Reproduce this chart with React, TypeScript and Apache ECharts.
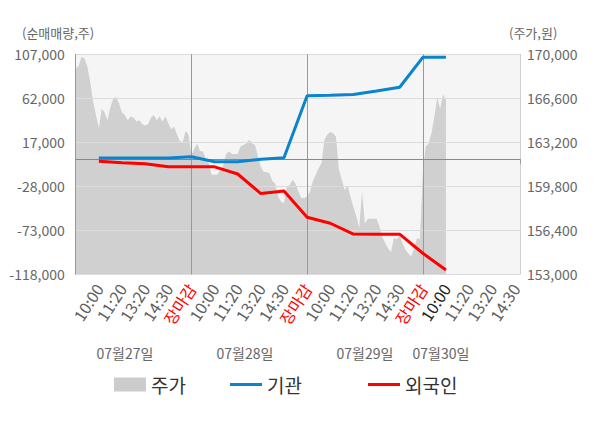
import React, { useEffect, useRef } from 'react';
import * as echarts from 'echarts';

// x-axis slot labels (slot index 0..19)
const xTickLabels = [
  '', '10:00', '11:20', '13:20', '14:30', '장마감',
  '10:00', '11:20', '13:20', '14:30', '장마감',
  '10:00', '11:20', '13:20', '14:30', '장마감',
  '10:00', '11:20', '13:20', '14:30',
];
const currentSlot = 16;
const dateLabels = ['07월27일', '07월28일', '07월29일', '07월30일'];

// investor net buying (shares) at slots 1..16
const investorSlots = [1, 2, 3, 4, 5, 6, 7, 8, 9, 10, 11, 12, 13, 14, 15, 16];
const instNet = [900, 900, 900, 900, 2300, -2800, -2800, -400, 1200, 64600, 65100, 65900, 69500, 73300, 103900, 103900];
const foreignNet = [-2400, -3900, -4900, -8100, -8100, -8100, -15400, -35400, -32800, -59700, -65800, -76800, -77000, -77000, -96500, -113600];

// price (won), one sample every 1/8 slot from slot 0 to slot 16
const priceStep = 1 / 8;
const priceValues = [
  168900, 169100, 169800, 169700, 169100, 167900, 166400, 165300, 164300, 165800,
  165500, 164900, 165900, 166600, 166700, 166200, 165500, 165300, 164900, 165200,
  165100, 164800, 164900, 164600, 164500, 164600, 165100, 165300, 164900, 165200,
  164800, 165200, 164700, 164200, 164400, 163800, 163300, 163200, 164100, 163800,
  162200, 162700, 163100, 162500, 162500, 161900, 161600, 160700, 160700, 160700,
  161100, 161400, 162300, 162500, 162300, 162300, 162300, 162900, 163000, 163100,
  163400, 163100, 163000, 162100, 161300, 160900, 160900, 160800, 160200, 160000,
  159000, 158600, 158500, 159800, 159900, 160300, 160000, 159400, 158900, 158900,
  159000, 159400, 160200, 160700, 161200, 161600, 163400, 163800, 164000, 163900,
  163600, 161100, 160300, 159500, 159900, 159000, 158200, 157500, 156600, 159400,
  156900, 157300, 157300, 157300, 157300, 156700, 155900, 155400, 155000, 154700,
  155800, 155700, 156000, 155400, 154900, 154600, 154400, 155000, 155800, 155700,
  160800, 162900, 163100, 163900, 165200, 166700, 165800, 166900, 166500,
];

const leftMin = -118000;
const leftMax = 107000;
const leftInterval = 45000;
const rightMin = 153000;
const rightMax = 170000;
const rightInterval = 3400;
const xMax = 19.2;
const dayBoundaries = [5, 10, 15];
const xTickValues = [0, 5, 10, 15, 19.2];
const xLabelValues = [1, 2, 3, 4, 5, 6, 7, 8, 9, 10, 11, 12, 13, 14, 15, 16, 17, 18, 19];

const FONT = "'Noto Sans CJK KR', 'Noto Sans', sans-serif";

export default function App() {
  const ref = useRef<HTMLDivElement>(null);

  useEffect(() => {
    document.body.style.margin = '0';
    if (!ref.current) return;
    const chart = echarts.init(ref.current, undefined, { renderer: 'svg' });

    const fmt = (v: number) => v.toLocaleString('en-US');

    const option: any = {
      animation: false,
      backgroundColor: '#ffffff',
      textStyle: { fontFamily: FONT },
      grid: {
        left: 75.7,
        right: 80,
        top: 54.3,
        bottom: 153.7,
        show: true,
        backgroundColor: '#f5f5f5',
        borderWidth: 0,
        z: 0,
      },
      legend: [
        {
          data: ['주가'], left: 114, top: 375, padding: 0, selectedMode: false,
          icon: 'rect', itemWidth: 32, itemHeight: 14,
          textStyle: { fontSize: 19, color: '#333', fontFamily: FONT },
        },
        {
          data: ['기관'], left: 230, top: 375, padding: 0, selectedMode: false,
          icon: 'rect', itemWidth: 32, itemHeight: 3,
          textStyle: { fontSize: 19, color: '#333', fontFamily: FONT },
        },
        {
          data: ['외국인'], left: 368, top: 375, padding: 0, selectedMode: false,
          icon: 'rect', itemWidth: 32, itemHeight: 3,
          textStyle: { fontSize: 19, color: '#333', fontFamily: FONT },
        },
      ],
      xAxis: {
        type: 'value',
        min: 0,
        max: xMax,
        interval: 1,
        z: 1,
        axisLine: { show: true, lineStyle: { color: '#999', width: 1 } },
        axisTick: { show: true, customValues: xTickValues, length: 5, lineStyle: { color: '#999' } },
        splitLine: { show: false },
        axisLabel: {
          customValues: xLabelValues,
          rotate: 57,
          margin: 11,
          fontSize: 16,
          color: '#606060',
          fontFamily: FONT,
          formatter: (val: number) => {
            const k = Math.round(val);
            if (Math.abs(val - k) > 1e-6) return '';
            const t = xTickLabels[k];
            if (!t) return '';
            if (t === '장마감') return `{r|${t}}`;
            if (k === currentSlot) return `{d|${t}}`;
            return t;
          },
          rich: {
            r: { color: '#ff0000', fontSize: 16, fontFamily: FONT },
            d: { color: '#222', fontSize: 16, fontFamily: FONT },
          },
        },
      },
      yAxis: [
        {
          type: 'value',
          position: 'left',
          min: leftMin,
          max: leftMax,
          interval: leftInterval,
          z: 1,
          axisLine: { show: true, lineStyle: { color: '#999' } },
          axisTick: { show: false },
          splitLine: { show: true, lineStyle: { color: '#dcdcdc', width: 1 } },
          axisLabel: { fontSize: 14, color: '#666', margin: 11, fontFamily: FONT, formatter: fmt },
        },
        {
          type: 'value',
          position: 'right',
          min: rightMin,
          max: rightMax,
          interval: rightInterval,
          z: 1,
          axisLine: { show: true, lineStyle: { color: '#d0d0d0' } },
          axisTick: { show: false },
          splitLine: { show: false },
          axisLabel: { fontSize: 14, color: '#666', margin: 7, fontFamily: FONT, formatter: fmt },
        },
      ],
      graphic: [
        {
          type: 'text', left: 22, top: 26,
          style: { text: '(순매매량,주)', fill: '#666', fontSize: 13, fontFamily: FONT },
        },
        {
          type: 'text', left: 509, top: 26,
          style: { text: '(주가,원)', fill: '#666', fontSize: 13, fontFamily: FONT },
        },
        ...dateLabels.map((t, i) => ({
          type: 'text',
          x: [125, 245, 365, 441][i],
          y: 353,
          style: { text: t, fill: '#666', fontSize: 14, fontFamily: FONT, align: 'center', verticalAlign: 'middle' },
        })),
      ],
      series: [
        {
          name: '주가',
          type: 'line',
          xAxisIndex: 0,
          yAxisIndex: 1,
          z: 0.5,
          symbol: 'none',
          sampling: 'none',
          data: priceValues.map((p, i) => [i * priceStep, p]),
          itemStyle: { color: '#cccccc' },
          lineStyle: { width: 0, color: '#d0d0d0' },
          areaStyle: { color: '#d0d0d0', opacity: 1, origin: 'start' },
          markLine: {
            z: 1.5,
            silent: true,
            symbol: ['none', 'none'],
            label: { show: false },
            lineStyle: { color: '#999', width: 1, type: 'solid' },
            data: dayBoundaries.map((d) => ({ xAxis: d })),
          },
        },
        {
          name: '기관',
          type: 'line',
          xAxisIndex: 0,
          yAxisIndex: 0,
          z: 3,
          symbol: 'none',
          data: investorSlots.map((s, i) => [s, instNet[i]]),
          itemStyle: { color: '#0a84cc' },
          lineStyle: { color: '#0a84cc', width: 3 },
        },
        {
          name: '외국인',
          type: 'line',
          xAxisIndex: 0,
          yAxisIndex: 0,
          z: 3,
          symbol: 'none',
          data: investorSlots.map((s, i) => [s, foreignNet[i]]),
          itemStyle: { color: '#ff0000' },
          lineStyle: { color: '#ff0000', width: 3 },
          markLine: {
            z: 1.5,
            silent: true,
            symbol: ['none', 'none'],
            label: { show: false },
            lineStyle: { color: '#888', width: 1, type: 'solid' },
            data: [{ yAxis: 0 }],
          },
        },
      ],
    };

    chart.setOption(option);
    return () => chart.dispose();
  }, []);

  return <div ref={ref} style={{ width: 600, height: 428 }} />;
}
